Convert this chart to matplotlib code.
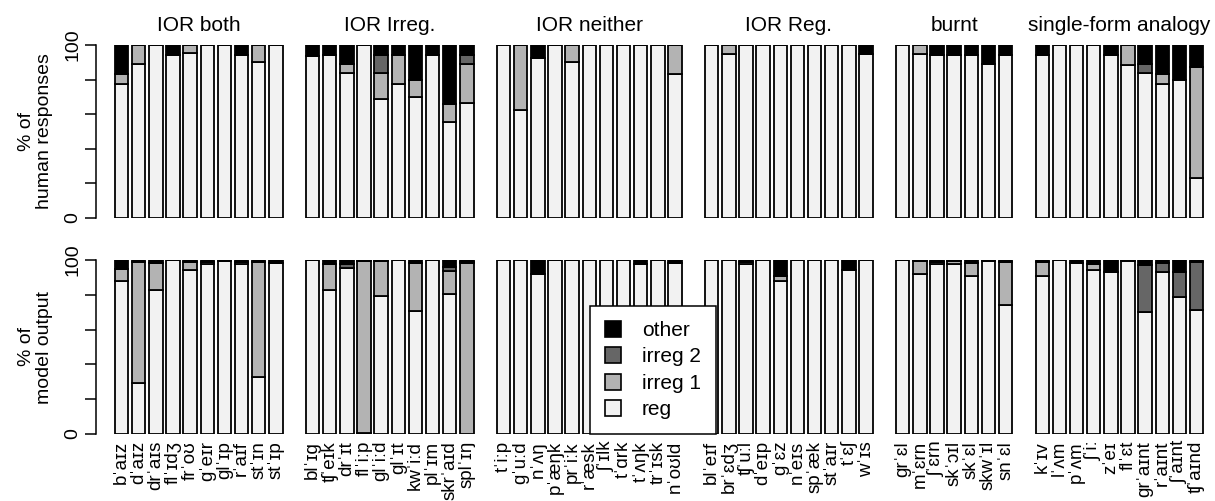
import numpy as np
import matplotlib
matplotlib.use('Agg')
import matplotlib.pyplot as plt
from matplotlib.patches import Patch

plt.rcParams['font.family'] = ['Liberation Sans', 'DejaVu Sans']

# panel names and number of words in each
groups = ['IOR both', 'IOR Irreg.', 'IOR neither', 'IOR Reg.', 'burnt', 'single-form analogy']
group_sizes = [10, 10, 11, 10, 7, 10]

words = ['bˈaɪz', 'dˈaɪz', 'drˈaɪs', 'flˈɪdʒ', 'frˈoʊ', 'gˈeɪr', 'glˈɪp', 'rˈaɪf', 'stˈɪn', 'stˈɪp',
         'blˈɪg', 'ʧˈeɪk', 'drˈɪt', 'flˈiːp', 'glˈiːd', 'glˈɪt', 'kwˈiːd', 'plˈɪm', 'skrˈaɪd', 'splˈɪŋ',
         'tˈiːp', 'gˈuːd', 'nˈʌŋ', 'pˈæŋk', 'prˈiːk', 'rˈæsk', 'ʃˈɪlk', 'tˈɑrk', 'tˈʌŋk', 'trˈɪsk', 'nˈoʊld',
         'blˈeɪf', 'brˈɛdʒ', 'ʧˈuːl', 'dˈeɪp', 'gˈɛz', 'nˈeɪs', 'spˈæk', 'stˈaɪr', 'tˈɛʃ', 'wˈɪs',
         'grˈɛl', 'mˈɛrn', 'ʃˈɛrn', 'skˈɔɪl', 'skˈɛl', 'skwˈɪl', 'snˈɛl',
         'kˈɪv', 'lˈʌm', 'pˈʌm', 'ʃˈiː', 'zˈeɪ', 'flˈɛt', 'grˈaɪnt', 'rˈaɪnt', 'ʃˈaɪnt', 'ʧˈaɪnd']

# human responses (%)
human_reg = [77.5, 89, 100, 94, 95.5, 100, 100, 94.5, 90, 100,
             93.5, 94.5, 84, 100, 68.5, 77.5, 70, 94, 55.5, 66.5,
             100, 62.5, 92.5, 100, 90, 100, 100, 100, 100, 100, 83,
             100, 95, 100, 100, 100, 100, 100, 100, 100, 95,
             100, 95, 94, 94, 94, 89, 94,
             94.5, 100, 100, 100, 94, 88.5, 84, 77.5, 79.5, 23]
human_irreg1 = [5.5, 11, 0, 0, 4.5, 0, 0, 0, 10, 0,
                0, 0, 5, 0, 15.5, 16.5, 9.5, 0, 10.5, 22.5,
                0, 37.5, 0, 0, 10, 0, 0, 0, 0, 0, 17,
                0, 5, 0, 0, 0, 0, 0, 0, 0, 0,
                0, 5, 0, 0, 0, 0, 0,
                0, 0, 0, 0, 0, 11.5, 0, 5.5, 0, 64.5]
human_irreg2 = [0, 0, 0, 0, 0, 0, 0, 0, 0, 0,
                0, 0, 0, 0, 10, 0, 0, 0, 0, 5,
                0, 0, 0, 0, 0, 0, 0, 0, 0, 0, 0,
                0, 0, 0, 0, 0, 0, 0, 0, 0, 0,
                0, 0, 0, 0, 0, 0, 0,
                0, 0, 0, 0, 0, 0, 5, 0, 0, 0]
human_other = [17, 0, 0, 6, 0, 0, 0, 5.5, 0, 0,
               6.5, 5.5, 11, 0, 6, 6, 20.5, 6, 34, 6,
               0, 0, 7.5, 0, 0, 0, 0, 0, 0, 0, 0,
               0, 0, 0, 0, 0, 0, 0, 0, 0, 5,
               0, 0, 6, 6, 6, 11, 6,
               5.5, 0, 0, 0, 6, 0, 11, 17, 20.5, 12.5]

# model output (%)
model_reg = [88, 29.5, 83, 100, 94.5, 97.5, 99.5, 97.5, 33, 98,
             100, 82.5, 95.5, 0.5, 79.5, 100, 70.5, 100, 80.5, 0,
             100, 100, 92, 100, 100, 100, 100, 100, 97.5, 100, 98.5,
             100, 100, 97.5, 100, 88, 100, 100, 100, 94, 100,
             100, 92, 97.5, 97.5, 91, 99.5, 74,
             91, 100, 98, 94, 93, 99.5, 70, 93, 79, 71.5]
model_irreg1 = [7, 69.5, 15, 0, 4.5, 1.5, 0, 1.5, 66, 0,
                0, 15, 0, 99, 20, 0, 28, 0, 13, 98,
                0, 0, 0, 0, 0, 0, 0, 0, 0, 0, 0,
                0, 0, 1.5, 0, 3, 0, 0, 0, 0, 0,
                0, 7.5, 1.5, 2, 7.5, 0, 25,
                8, 0, 0, 3.5, 0, 0, 0, 0, 0, 0]
model_irreg2 = [0, 0, 0, 0, 0, 0, 0, 0, 0, 0,
                0, 0, 2, 0, 0, 0, 0, 0, 2.5, 1,
                0, 0, 0, 0, 0, 0, 0, 0, 0, 0, 0,
                0, 0, 0, 0, 0, 0, 0, 0, 0, 0,
                0, 0, 0, 0, 0, 0, 0,
                0, 0, 0, 0, 0, 0, 27, 5.5, 14, 27.5]
model_other = [5, 1, 2, 0, 1, 1, 0.5, 1, 1, 2,
               0, 2.5, 2.5, 0.5, 0.5, 0, 1.5, 0, 4, 1,
               0, 0, 8, 0, 0, 0, 0, 0, 2.5, 0, 1.5,
               0, 0, 1, 0, 9, 0, 0, 0, 6, 0,
               0, 0.5, 1, 0.5, 1.5, 0.5, 1,
               1, 0, 2, 2.5, 7, 0.5, 3, 1.5, 7, 1]

cat_names = ['reg', 'irreg 1', 'irreg 2', 'other']
cat_colors = ['#f2f2f2', '#b3b3b3', '#666666', '#000000']

W, H = 1215, 501
fig = plt.figure(figsize=(W / 100, H / 100), dpi=100)

pitch = 17.15   # px per bar
gap = 19.5      # px between panels
x0 = 113
rows = [(45, 218, [human_reg, human_irreg1, human_irreg2, human_other], '% of\nhuman responses'),
        (260, 434, [model_reg, model_irreg1, model_irreg2, model_other], '% of\nmodel output')]

for r, (top, bot, series, ylab) in enumerate(rows):
    left = x0
    start = 0
    for g, n in enumerate(group_sizes):
        ax = fig.add_axes([left / W, 1 - bot / H, n * pitch / W, (bot - top) / H])
        idx = np.arange(n)
        bottom = np.zeros(n)
        for vals, col in zip(series, cat_colors):
            v = np.array(vals[start:start + n], dtype=float)
            ax.bar(idx, v, width=0.78, bottom=bottom, color=col,
                   edgecolor='black', linewidth=1.3)
            bottom += v
        ax.set_xlim(-0.5, n - 0.5)
        ax.set_ylim(0, 100)
        for s in ['top', 'right', 'bottom']:
            ax.spines[s].set_visible(False)
        if g == 0:
            ax.spines['left'].set_position(('outward', 12))
            ax.spines['left'].set_bounds(0, 100)
            ax.spines['left'].set_linewidth(1.1)
            ax.set_yticks([0, 20, 40, 60, 80, 100])
            ax.set_yticklabels(['0', '', '', '', '', '100'], rotation=90, va='center', fontsize=14)
            ax.tick_params(axis='y', length=8, width=1.1, pad=3)
            ax.set_ylabel(ylab, fontsize=14, labelpad=8, linespacing=1.1)
        else:
            ax.spines['left'].set_visible(False)
            ax.set_yticks([])
        if r == 0:
            ax.set_title(groups[g], fontsize=15, pad=10)
            ax.set_xticks([])
        else:
            ax.set_xticks(idx)
            ax.set_xticklabels(words[start:start + n], rotation=90, fontsize=13.5)
            ax.tick_params(axis='x', length=0, pad=5)
        left += n * pitch + gap
        start += n

handles = [Patch(facecolor=c, edgecolor='black', linewidth=1.2) for c in cat_colors[::-1]]
leg = fig.legend(handles, cat_names[::-1], loc='upper left',
                 bbox_to_anchor=(590 / W, 1 - 306 / H), borderaxespad=0,
                 fontsize=15, frameon=True, fancybox=False, framealpha=1,
                 handlelength=0.8, handleheight=0.8, handletextpad=1.0,
                 labelspacing=0.35, borderpad=0.7)
leg.get_frame().set_edgecolor('black')
leg.get_frame().set_linewidth(1.1)

fig.savefig('out.png', dpi=100)
